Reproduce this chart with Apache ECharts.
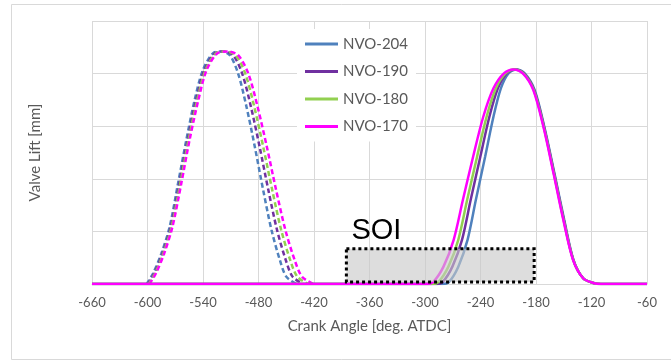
<!DOCTYPE html>
<html>
<head>
<meta charset="utf-8">
<script src="https://cdn.jsdelivr.net/npm/echarts@6/dist/echarts.min.js"></script>
<style>html,body{margin:0;padding:0;background:#fff;}#c{width:671px;height:360px;}</style>
</head>
<body>
<div id="c"></div>
<script>
const NAMES = ['NVO-204', 'NVO-190', 'NVO-180', 'NVO-170'];
const COLORS = ['#4f81bd', '#7030a0', '#92d050', '#ff00ff'];

// Exhaust (dashed) lift profile and angles per case
const EXH_LIFT = [0, 0.2, 0.58, 1.09, 1.91, 2.74, 3.5, 4.07, 4.39, 4.42, 4.35, 4.0, 3.37, 2.61, 1.79, 1.03, 0.46, 0.14, 0];
const EXH_ANGLE_204 = [-601, -594, -585, -576, -567, -558, -549, -540, -529, -520, -511, -502, -493, -484, -475, -466, -457, -450, -439];
const EXH_ANGLE_190 = [-599.8, -592.8, -583.8, -574.8, -565.6, -556.6, -547.4, -538.4, -527, -517.2, -507.4, -497.6, -488.2, -478.8, -469.4, -460, -450.6, -443.2, -431.8];
const EXH_ANGLE_180 = [-598.9, -591.9, -582.9, -573.9, -564.6, -555.6, -546.2, -537.2, -525.5, -515.1, -504.7, -494.3, -484.6, -474.9, -465.2, -455.5, -445.8, -438.1, -426.4];
const EXH_ANGLE_170 = [-598, -591, -582, -573, -563.5, -554.5, -545, -536, -524, -513, -502, -491, -481, -471, -461, -451, -441, -433, -421];

// Intake (solid) lift profile and angles per case (baseline to both axis ends)
const INT_LIFT = [0, 0, 0.04, 0.33, 0.84, 1.6, 2.42, 3.18, 3.72, 4.0, 4.08, 4.0, 3.69, 2.99, 2.10, 1.22, 0.46, 0.11, 0.02, 0, 0];
const INT_ANGLE_204 = [-660, -281, -274, -264, -254, -245, -235, -226, -218, -210, -201, -192, -181.5, -171, -160, -149.5, -139.5, -129, -118, -110, -60];
const INT_ANGLE_190 = [-660, -287.8, -280.8, -270.4, -260, -250.6, -240.2, -230.4, -221.2, -212, -202.4, -192.8, -182.1, -171.4, -160.4, -149.9, -139.7, -129, -118, -110, -60];
const INT_ANGLE_180 = [-660, -292.4, -285.4, -274.7, -264, -254.4, -243.7, -233.4, -223.4, -213.3, -203.3, -193.3, -182.5, -171.7, -160.7, -150.2, -139.8, -129, -118, -110, -60];
const INT_ANGLE_170 = [-660, -298, -291, -280, -269, -259, -248, -237, -226, -215, -204.5, -194, -183, -172, -161, -150.5, -140, -129, -118, -110, -60];

// SOI window [angleStart, liftBottom, angleEnd, liftTop]
const SOI_BOX = [[-385, 0.04, -182, 0.67]];
const SOI_LABEL = 'SOI';

const EXH_ANGLES = [EXH_ANGLE_204, EXH_ANGLE_190, EXH_ANGLE_180, EXH_ANGLE_170];
const INT_ANGLES = [INT_ANGLE_204, INT_ANGLE_190, INT_ANGLE_180, INT_ANGLE_170];

const zip = (a, l) => a.map((v, i) => [v, l[i]]);
const FONT = 'Lato, "Open Sans", sans-serif';
const series = [];
NAMES.forEach((n, i) => {
  series.push({
    name: n, type: 'line', data: zip(EXH_ANGLES[i], EXH_LIFT), smooth: 0.3,
    symbol: 'none', color: COLORS[i], z: 2 + i,
    lineStyle: { width: 2.5, type: [5, 3], color: COLORS[i] }
  });
});
NAMES.forEach((n, i) => {
  series.push({
    name: n, type: 'line', data: zip(INT_ANGLES[i], INT_LIFT), smooth: 0.3,
    symbol: 'none', color: COLORS[i], z: 6 + i,
    lineStyle: { width: 2.5, color: COLORS[i] }
  });
});
series.push({
  type: 'custom', name: 'SOI', z: 20, silent: true,
  encode: { x: [0, 2], y: [1, 3] },
  data: SOI_BOX,
  renderItem: function (params, api) {
    const p1 = api.coord([api.value(0), api.value(3)]);
    const p2 = api.coord([api.value(2), api.value(1)]);
    return {
      type: 'group',
      children: [
        { type: 'rect', shape: { x: p1[0], y: p1[1], width: p2[0] - p1[0], height: p2[1] - p1[1] },
          style: { fill: 'rgba(200,200,200,0.62)', stroke: '#000', lineWidth: 3, lineDash: [3, 3] } },
        { type: 'text', x: p1[0] + 5, y: p1[1] - 3,
          style: { text: SOI_LABEL, font: '29px "Liberation Sans", Arial, sans-serif', fill: '#000',
                   align: 'left', verticalAlign: 'bottom' } }
      ]
    };
  }
});

const chart = echarts.init(document.getElementById('c'), null, { renderer: 'canvas' });
chart.setOption({
  animation: false,
  backgroundColor: '#fff',
  graphic: [{ type: 'rect', left: 9, top: 2, shape: { width: 670, height: 355 },
    style: { fill: 'none', stroke: '#d9d9d9', lineWidth: 1 }, z: 0 }],
  grid: { left: 92, right: 24, top: 21, bottom: 76 },
  legend: {
    data: NAMES.map(n => ({ name: n, icon: 'rect' })),
    orient: 'vertical', left: 297, top: 29, backgroundColor: '#fff',
    padding: [7, 8, 7, 8], itemWidth: 33, itemHeight: 3, itemGap: 11.5,
    textStyle: { fontSize: 15, color: '#595959', fontFamily: FONT, lineHeight: 16 }, z: 30
  },
  xAxis: {
    type: 'value', min: -660, max: -60, interval: 60,
    name: 'Crank Angle [deg. ATDC]', nameLocation: 'middle', nameGap: 35,
    nameTextStyle: { fontSize: 15, color: '#595959', fontFamily: FONT },
    axisLine: { show: true, lineStyle: { color: '#d9d9d9' } },
    axisTick: { show: false },
    axisLabel: { fontSize: 13, color: '#595959', fontFamily: FONT, margin: 12 },
    splitLine: { show: true, lineStyle: { color: '#d9d9d9', width: 1 } }
  },
  yAxis: {
    type: 'value', min: 0, max: 5, interval: 1,
    name: 'Valve Lift [mm]', nameLocation: 'middle', nameGap: 49,
    nameTextStyle: { fontSize: 15, color: '#595959', fontFamily: FONT },
    axisLine: { show: false }, axisTick: { show: false }, axisLabel: { show: false },
    splitLine: { show: true, lineStyle: { color: '#d9d9d9', width: 1 } }
  },
  series: series
});
</script>
</body>
</html>
